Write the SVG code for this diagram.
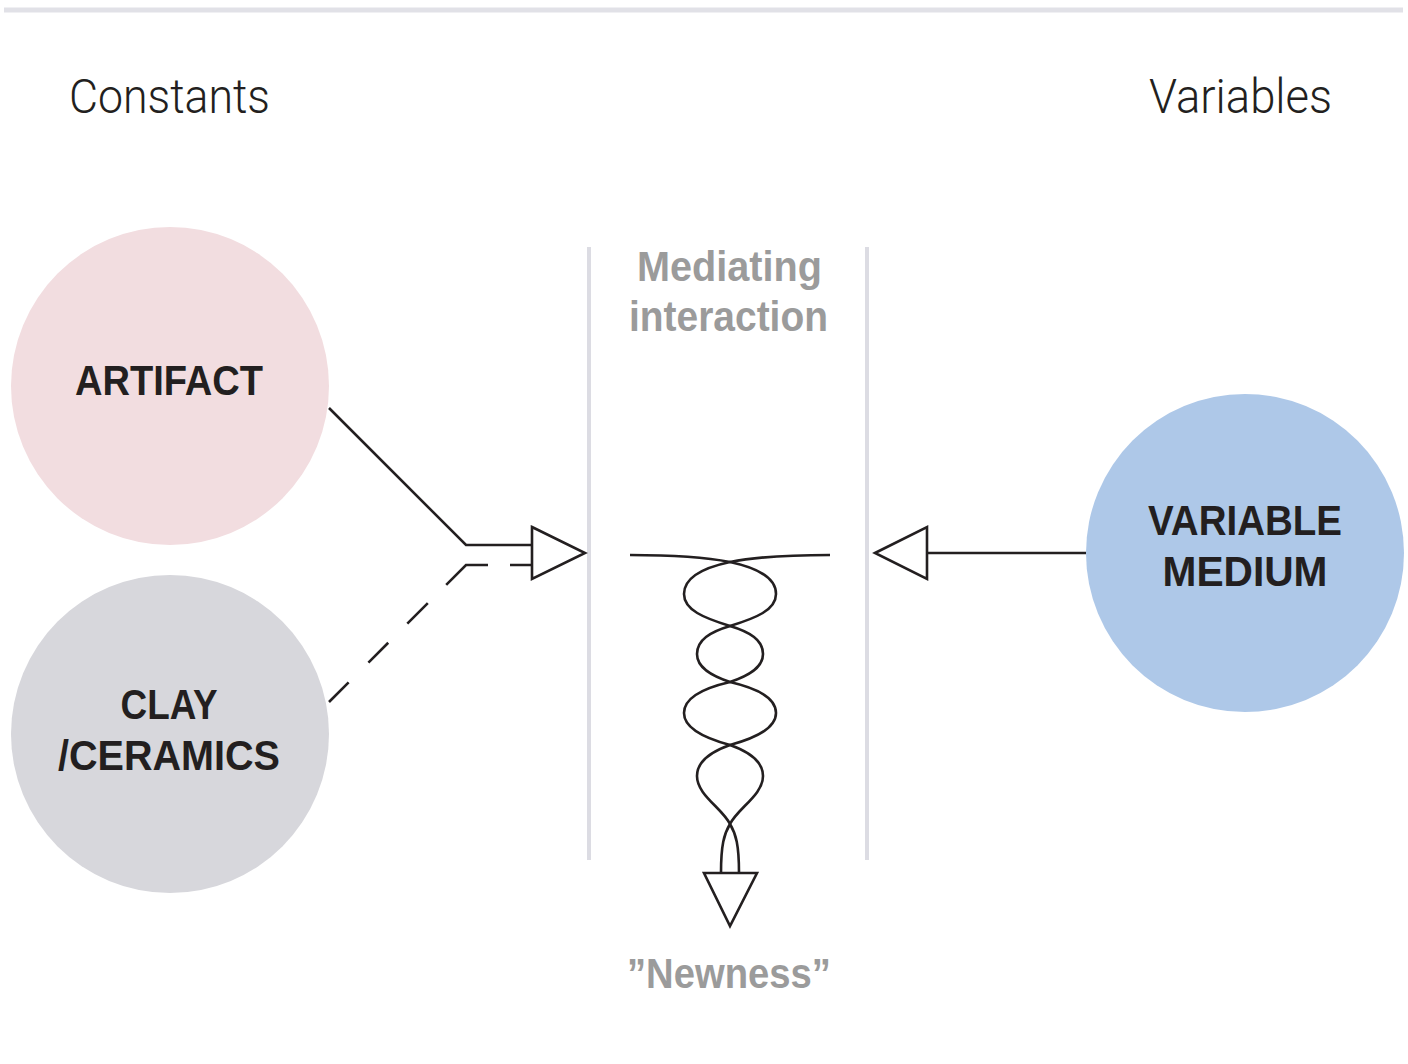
<svg xmlns="http://www.w3.org/2000/svg" width="1408" height="1064" viewBox="0 0 1408 1064">
<style>
.bg{fill:#ffffff}
.rule{stroke:#e1e1e7;stroke-width:5;fill:none}
.guide{stroke:#dcdce3;stroke-width:4;fill:none}
.head{font-family:"Roboto","Liberation Sans",sans-serif;font-weight:300;font-size:49px;fill:#231f20}
.lbl{font-family:"Liberation Sans","Roboto",sans-serif;font-weight:bold;font-size:43px;fill:#231f20;text-anchor:middle}
.mid{font-family:"Liberation Sans","Roboto",sans-serif;font-weight:bold;font-size:43px;fill:#9b9b9b;text-anchor:middle}
.ln{stroke:#231f20;stroke-width:2.6;fill:none;stroke-linejoin:miter}
.tri{stroke:#231f20;stroke-width:2.6;fill:#ffffff;stroke-linejoin:miter}
</style>
<rect class="bg" x="0" y="0" width="1408" height="1064"/>
<line class="rule" x1="4" y1="10" x2="1403" y2="10"/>
<text class="head" x="69" y="113" textLength="201" lengthAdjust="spacingAndGlyphs">Constants</text>
<text class="head" x="1149" y="113" textLength="183" lengthAdjust="spacingAndGlyphs">Variables</text>
<g id="mediating">
<line class="guide" x1="589" y1="247" x2="589" y2="860"/>
<line class="guide" x1="867" y1="247" x2="867" y2="860"/>
<text class="mid" x="729.5" y="281" textLength="185" lengthAdjust="spacingAndGlyphs">Mediating</text>
<text class="mid" x="728.5" y="331" textLength="199" lengthAdjust="spacingAndGlyphs">interaction</text>
</g>
<g id="artifact">
<circle cx="170" cy="386" r="159" fill="#f2dde0"/>
<text class="lbl" x="169" y="395" textLength="188" lengthAdjust="spacingAndGlyphs">ARTIFACT</text>
</g>
<g id="clay">
<circle cx="170" cy="734" r="159" fill="#d7d7dc"/>
<text class="lbl" x="169" y="719" textLength="97" lengthAdjust="spacingAndGlyphs">CLAY</text>
<text class="lbl" x="169" y="770" textLength="222" lengthAdjust="spacingAndGlyphs">/CERAMICS</text>
</g>
<g id="variable-medium">
<circle cx="1245" cy="553" r="159" fill="#aec8e8"/>
<text class="lbl" x="1245" y="535" textLength="194" lengthAdjust="spacingAndGlyphs">VARIABLE</text>
<text class="lbl" x="1245" y="586" textLength="165" lengthAdjust="spacingAndGlyphs">MEDIUM</text>
</g>
<g id="newness">
<text class="mid" x="729" y="988" textLength="204" lengthAdjust="spacingAndGlyphs">”Newness”</text>
</g>
<g id="connectors">
<polyline class="ln" points="329,408 466,545 532,545"/>
<path class="ln" d="M532,565 L466,565 L329,702" stroke-dasharray="22 22 50 26 29 27 28 28 30"/>
<polygon class="tri" points="532,527 585,553 532,579"/>
<line class="ln" x1="927" y1="553" x2="1086" y2="553"/>
<polygon class="tri" points="875,553 927,527 927,579"/>
<path class="ln" d="M630,555 C675,555 705,557 730,562 C758,568 776,578 776,594 C776,610 756,618 730,626 C710,632 697,640 697,654 C697,668 712,676 730,682 C756,688 776,698 776,713 C776,728 756,738 730,745 C710,752 697,762 697,776 C697,795 722,808 730,824 C736,834 739,845 739,873"/>
<path class="ln" d="M830,555 C785,555 755,557 730,562 C702,568 684,578 684,594 C684,610 704,618 730,626 C750,632 763,640 763,654 C763,668 748,676 730,682 C704,688 684,698 684,713 C684,728 704,738 730,745 C750,752 763,762 763,776 C763,795 738,808 730,824 C724,834 721,845 721,873"/>
<polygon class="tri" points="704,873 757,873 730,926"/>
</g>
</svg>
